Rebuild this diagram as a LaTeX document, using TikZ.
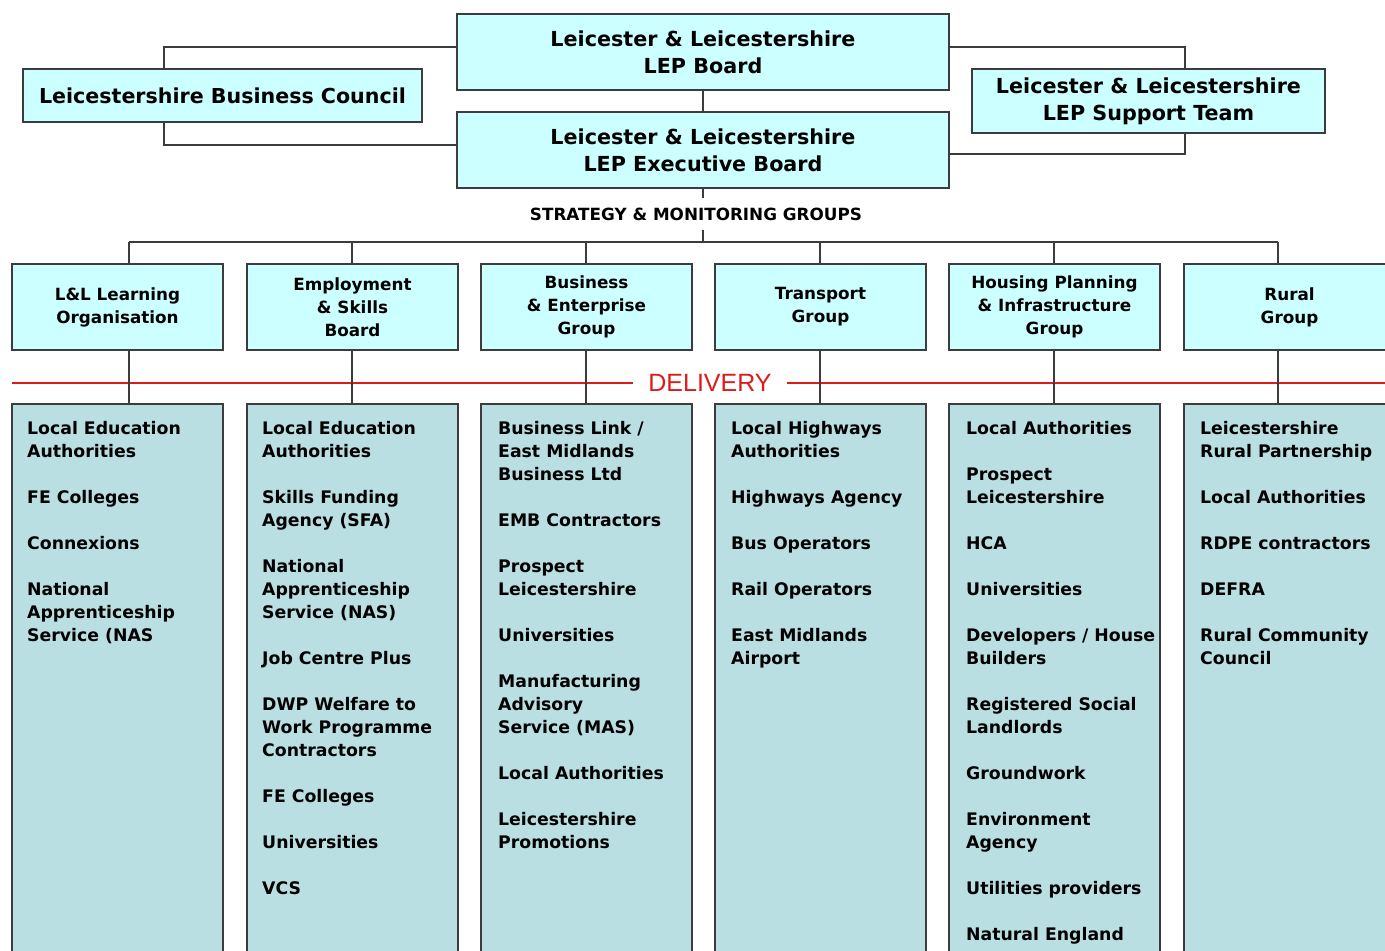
\documentclass[tikz,border=0pt]{standalone}
\usepackage{fontspec}
\setmainfont{DejaVu Sans}
\newfontfamily\delfont{Liberation Sans}
\definecolor{boxline}{HTML}{3C3C3C}
\definecolor{topfill}{HTML}{CCFFFF}
\definecolor{delfill}{HTML}{BADFE3}
\definecolor{delred}{HTML}{DD1B1B}
% gap between items in a delivery list
\newcommand\nx{\\[23pt]}
\newcommand\dlist[1]{\parbox[t]{200pt}{\raggedright #1}}
\begin{document}
\begin{tikzpicture}[x=1pt,y=-1pt,
  box/.style={draw=boxline, line width=1.5pt, inner sep=0pt, align=center},
  topbox/.style={box, fill=topfill, font=\fontsize{20.7}{27}\selectfont\bfseries},
  groupbox/.style={box, fill=topfill, minimum width=211pt, minimum height=86pt,
    font=\fontsize{16.8}{23}\selectfont\bfseries},
  delbox/.style={box, fill=delfill, minimum width=211pt, minimum height=566pt},
  deltext/.style={anchor=base west, inner sep=0pt,
    font=\fontsize{17.3}{23}\selectfont\bfseries},
  link/.style={draw=boxline, line width=1.5pt},
  redline/.style={draw=delred, line width=1.2pt}]
\useasboundingbox (0,0) rectangle (1385,951);
\fill[white] (0,0) rectangle (1385,951);
\clip (0,0) rectangle (1385,951);

% board level
\node[topbox, minimum width=492pt, minimum height=76pt] (lep) at (703,52)
  {Leicester \& Leicestershire\\LEP Board};
\node[topbox, minimum width=492pt, minimum height=76pt] (exec) at (703,150)
  {Leicester \& Leicestershire\\LEP Executive Board};
\node[topbox, minimum width=399pt, minimum height=53pt, font=\fontsize{20.6}{27}\selectfont\bfseries]
  (bc) at (222.5,95.5) {Leicestershire Business Council};
\node[topbox, minimum width=353pt, minimum height=64pt] (st) at (1148.5,101)
  {Leicester \& Leicestershire\\LEP Support Team};

\coordinate (bl1) at (164,47);
\coordinate (bl2) at (164,145);
\coordinate (br1) at (1185,47);
\coordinate (br2) at (1185,154);
\draw[link] (lep.west |- bl1) -| (bc.north -| bl1);
\draw[link] (bc.south -| bl2) |- (exec.west |- bl2);
\draw[link] (lep.east |- br1) -| (st.north -| br1);
\draw[link] (st.south -| br2) |- (exec.east |- br2);
\draw[link] (lep.south) -- (exec.north);

\node[inner sep=0pt, minimum height=32pt, font=\fontsize{16.8}{20}\selectfont\bfseries]
  (strat) at (696,214) {STRATEGY \& MONITORING GROUPS};

% strategy & monitoring groups
\node[groupbox] (g1) at (117.5,307) {L\&L Learning\\Organisation};
\node[groupbox] (g2) at (352.5,307) {Employment\\\& Skills\\Board};
\node[groupbox] (g3) at (586.5,307) {Business\\\& Enterprise\\Group};
\node[groupbox] (g4) at (820.5,307) {Transport\\Group};
\node[groupbox] (g5) at (1054.5,307) {Housing Planning\\\& Infrastructure\\Group};
\node[groupbox] (g6) at (1289.5,307) {Rural\\Group};

% delivery boxes
\node[delbox] (d1) at (117.5,687) {};
\node[delbox] (d2) at (352.5,687) {};
\node[delbox] (d3) at (586.5,687) {};
\node[delbox] (d4) at (820.5,687) {};
\node[delbox] (d5) at (1054.5,687) {};
\node[delbox] (d6) at (1289.5,687) {};

% delivery divider
\node[inner xsep=15pt, inner ysep=0pt, text=delred, font=\delfont\fontsize{25}{25}\selectfont]
  (del) at (710,383) {DELIVERY};
\coordinate (dl) at (12,383);
\coordinate (dr) at (1385,383);
\draw[redline] (dl) -- (del.west);
\draw[redline] (del.east) -- (dr);

% connectors
\coordinate (c1) at (129,242);
\coordinate (c2) at (352,242);
\coordinate (c3) at (586,242);
\coordinate (c4) at (820,242);
\coordinate (c5) at (1054,242);
\coordinate (c6) at (1278,242);
\draw[link] (exec.south) -- (exec.south |- strat.north);
\draw[link] (strat.south -| exec.south) -- (c1 -| exec.south);
\draw[link] (c1) -- (c6);
\foreach \i in {1,...,6}{
  \draw[link] (c\i) -- (g\i.north -| c\i);
  \draw[link] (g\i.south -| c\i) -- (d\i.north -| c\i);
}

% delivery lists
\node[deltext] (t1) at (27,434) {\dlist{Local Education\\Authorities\nx
  FE Colleges\nx Connexions\nx National\\Apprenticeship\\Service (NAS}};
\node[deltext] (t2) at (262,434) {\dlist{Local Education\\Authorities\nx
  Skills Funding\\Agency (SFA)\nx National\\Apprenticeship\\Service (NAS)\nx
  Job Centre Plus\nx DWP Welfare to\\Work Programme\\Contractors\nx
  FE Colleges\nx Universities\nx VCS}};
\node[deltext] (t3) at (498,434) {\dlist{Business Link /\\East Midlands\\Business Ltd\nx
  EMB Contractors\nx Prospect\\Leicestershire\nx Universities\nx
  Manufacturing\\Advisory\\Service (MAS)\nx Local Authorities\nx
  Leicestershire\\Promotions}};
\node[deltext] (t4) at (731,434) {\dlist{Local Highways\\Authorities\nx
  Highways Agency\nx Bus Operators\nx Rail Operators\nx East Midlands\\Airport}};
\node[deltext] (t5) at (966,434) {\dlist{Local Authorities\nx Prospect\\Leicestershire\nx
  HCA\nx Universities\nx Developers / House\\Builders\nx Registered Social\\Landlords\nx
  Groundwork\nx Environment\\Agency\nx Utilities providers\nx Natural England}};
\node[deltext] (t6) at (1200,434) {\dlist{Leicestershire\\Rural Partnership\nx
  Local Authorities\nx RDPE contractors\nx DEFRA\nx Rural Community\\Council}};
\end{tikzpicture}
\end{document}
